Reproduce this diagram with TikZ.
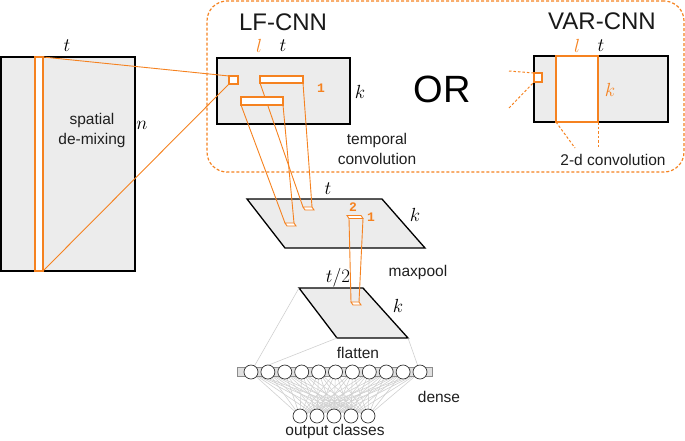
\RequirePackage{fix-cm}
\documentclass[tikz,border=0pt]{standalone}
\usepackage{fontspec}
\setmainfont{Liberation Sans}
\newfontfamily\monof{Liberation Mono}
\definecolor{org}{RGB}{245,130,32}
\definecolor{gfill}{RGB}{236,236,236}
\definecolor{lgray}{RGB}{208,208,208}
\begin{document}
\begin{tikzpicture}[x=1pt,y=-1pt,
  layerbox/.style={draw=black, line width=1.3pt, fill=gfill, inner sep=0pt, outer sep=0pt, anchor=north west},
  obox/.style={draw=org, line width=1.4pt, fill=white, inner sep=0pt, outer sep=0pt, anchor=north west},
  oline/.style={draw=org, line width=0.9pt},
  odash/.style={draw=org, line width=1pt, dash pattern=on 2.5pt off 2pt},
  para/.style={draw=black, line width=1.3pt, fill=gfill},
  spara/.style={draw=org, line width=0.9pt, fill=white},
  txt/.style={font=\fontsize{15.5}{20}\selectfont, align=center, inner sep=0pt, text=black!88},
  mth/.style={font=\fontsize{19}{19}\selectfont, inner sep=0pt},
  ttl/.style={font=\fontsize{24}{24}\selectfont, inner sep=0pt, text=black!90},
  onum/.style={font=\monof\bfseries\fontsize{13}{13}\selectfont, text=org, inner sep=0pt},
  neuron/.style={circle, draw=black!80, fill=white, line width=0.7pt, minimum size=14pt, inner sep=0pt, outer sep=0pt},
  conn/.style={draw=lgray, line width=0.6pt}]

\useasboundingbox (0,0) rectangle (685,440);

% dashed group box
\node[draw=org, line width=1.2pt, dash pattern=on 3pt off 2pt, rounded corners=20pt,
      minimum width=477pt, minimum height=171pt, anchor=north west, inner sep=0pt, outer sep=0pt] (grp) at (207,1) {};

% input
\node[layerbox, minimum width=134pt, minimum height=214pt] (inp) at (1,57) {};
\node[obox, minimum width=8pt, minimum height=214pt] (strip) at (35,57) {};
\node[txt] (sdm) at (92,130) {spatial\\de-mixing};
\node[mth] (tin) at (67,46) {$t$};
\node[mth] (nin) at (142,125) {$n$};

% LF-CNN
\node[ttl] (lft) at (283,22) {LF-CNN};
\node[layerbox, minimum width=133pt, minimum height=66pt] (lf) at (217,58) {};
\node[mth, text=org] (lfl) at (259,46) {$l$};
\node[mth] (lftt) at (283,46) {$t$};
\node[mth] (lfk) at (360,92) {$k$};
\node[obox, minimum width=9pt, minimum height=8pt] (sq1) at (229,76) {};
\draw[oline] (strip.north east) -- (sq1.north west);
\draw[oline] (strip.south east) -- (sq1.south west);
\node[onum] (one1) at (321,88) {1};
\node[txt] (tc) at (377,149) {temporal\\convolution};

% maxpool layer
\coordinate (m1) at (247,199); \coordinate (m2) at (382,199);
\coordinate (m3) at (425,248); \coordinate (m4) at (285,248);
\draw[para] (m1) -- (m2) -- (m3) -- (m4) -- cycle;
\node[mth] (mpt) at (328,189) {$t$};
\node[mth] (mpk) at (415,215) {$k$};
\node[txt] (mpl) at (418,272) {maxpool};

% flatten layer
\coordinate (f1) at (299,288); \coordinate (f2) at (363,288);
\coordinate (f3) at (408,338); \coordinate (f4) at (337,338);
\draw[para] (f1) -- (f2) -- (f3) -- (f4) -- cycle;
\node[mth] (flt) at (338,278) {$t/2$};
\node[mth] (flk) at (398,306) {$k$};
\node[txt] (fll) at (358,353) {flatten};

% small patches
\coordinate (p1a) at (303,207); \coordinate (p1b) at (312,207);
\coordinate (p1c) at (314,210); \coordinate (p1d) at (305,210);
\draw[spara] (p1a) -- (p1b) -- (p1c) -- (p1d) -- cycle;
\coordinate (p2a) at (285,223); \coordinate (p2b) at (294,223);
\coordinate (p2c) at (296,226); \coordinate (p2d) at (287,226);
\draw[spara] (p2a) -- (p2b) -- (p2c) -- (p2d) -- cycle;
\coordinate (p3a) at (347,215.5); \coordinate (p3b) at (361,215.5);
\coordinate (p3c) at (363,218.5); \coordinate (p3d) at (349,218.5);
\draw[spara] (p3a) -- (p3b) -- (p3c) -- (p3d) -- cycle;
\coordinate (p4a) at (351,302); \coordinate (p4b) at (359,302);
\coordinate (p4c) at (361,305); \coordinate (p4d) at (353,305);
\draw[spara] (p4a) -- (p4b) -- (p4c) -- (p4d) -- cycle;
\draw[oline] (p3d) -- (p4a);
\draw[oline] (p3c) -- (p4b);
\node[onum] (two) at (353,207) {2};
\node[onum] (one2) at (371,217) {1};

% filter rectangles and their projections
\node[obox, minimum width=43pt, minimum height=7pt] (r1) at (260,76) {};
\draw[oline] (r1.south west) -- (p1a);
\draw[oline] (r1.south east) -- (p1b);
\node[obox, minimum width=42pt, minimum height=8pt] (r2) at (241,97) {};
\draw[oline] (r2.south west) -- (p2a);
\draw[oline] (r2.south east) -- (p2b);

% OR
\node[font=\fontsize{38}{38}\selectfont, inner sep=0pt] (or) at (442,89) {OR};

% VAR-CNN
\node[ttl] (vart) at (602,21) {VAR-CNN};
\node[layerbox, minimum width=134pt, minimum height=66pt] (var) at (534,56) {};
\node[draw=org, line width=1.4pt, fill=white, inner sep=0pt, outer sep=0pt, anchor=north west,
      minimum width=42pt, minimum height=66pt] (vw) at (556,56) {};
\node[mth, text=org] (vl) at (577,46) {$l$};
\node[mth] (vt) at (601,46) {$t$};
\node[mth, text=org] (vk) at (610,90) {$k$};
\node[obox, minimum width=8pt, minimum height=9pt] (sq2) at (534,73) {};
\coordinate (d1) at (509,71); \coordinate (d2) at (509,108);
\draw[odash] (d1) -- (sq2.north west);
\draw[odash] (d2) -- (sq2.south west);
\coordinate (d3) at (575,148); \coordinate (d4) at (598,148);
\draw[odash] (vw.south west) -- (d3);
\draw[odash] (vw.south east) -- (d4);
\node[txt] (twod) at (613,160) {2-d convolution};

% dense part
\foreach \i in {0,...,10} { \coordinate (c\i) at ({251+16.9*\i},372); }
\foreach \j in {0,...,4} { \coordinate (o\j) at ({300+17*\j},416); }
\foreach \i in {0,...,10} { \foreach \j in {0,...,4} { \draw[conn] (c\i) -- (o\j); } }
\draw[conn] (f1) -- (c0);
\draw[conn] (f4) -- (c0);
\draw[conn] (f3) -- (c10);
\node[draw=black!45, fill=black!12, line width=0.6pt, inner sep=0pt, outer sep=0pt, anchor=north west,
      minimum width=195pt, minimum height=9pt] (bar) at (237,367.5) {};
\foreach \i in {0,...,10} { \node[neuron] (n\i) at (c\i) {}; }
\foreach \j in {0,...,4} { \node[neuron] (q\j) at (o\j) {}; }
\node[txt] (dns) at (439,397) {dense};
\node[txt] (oc) at (335,431) {output classes};
\end{tikzpicture}
\end{document}
